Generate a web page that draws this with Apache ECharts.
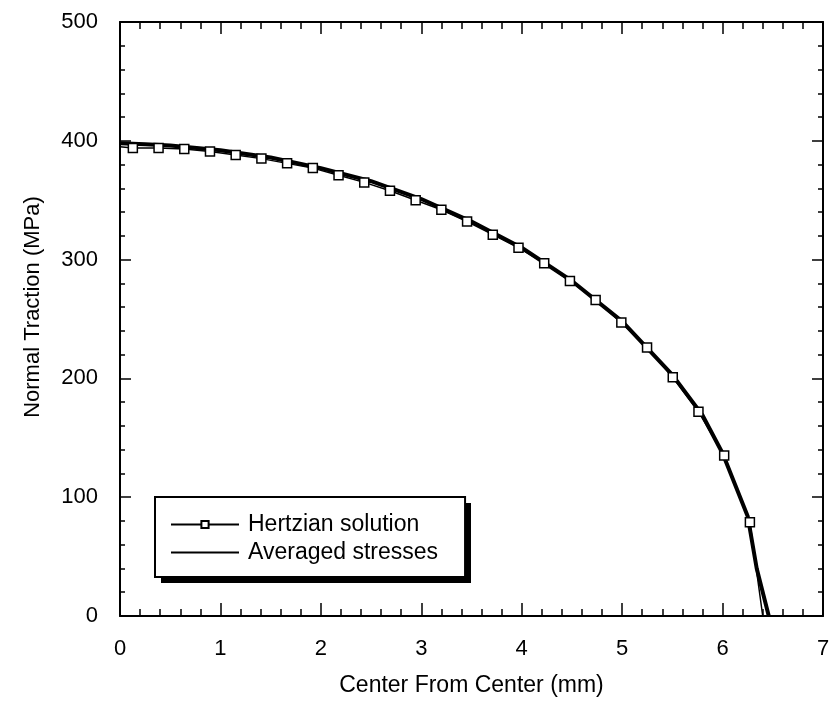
<!DOCTYPE html>
<html>
<head>
<meta charset="utf-8">
<script src="https://cdn.jsdelivr.net/npm/echarts@6/dist/echarts.min.js"></script>
<style>
  html, body { margin: 0; padding: 0; background: #fff; }
  #chart { width: 835px; height: 720px; }
</style>
</head>
<body>
<div id="chart"></div>
<script>
// Hertzian solution, element centres (markers)
const hertzX = [0.128, 0.384, 0.640, 0.896, 1.152, 1.408, 1.664, 1.920, 2.176, 2.432,
                2.688, 2.944, 3.200, 3.456, 3.712, 3.968, 4.224, 4.480, 4.736, 4.992,
                5.248, 5.504, 5.760, 6.016, 6.272]
const hertzY = [394, 394, 393, 391, 388, 385, 381, 377, 371, 365,
                358, 350, 342, 332, 321, 310, 297, 282, 266, 247,
                226, 201, 172, 135, 79]
// line ends without markers
const hertzStart = [0, 395]
const hertzEnd = [6.4, 0]

// Averaged stresses
const avgX = [0, 0.25, 0.5, 1.0, 1.5, 2.0, 2.5, 3.0, 3.5, 4.0, 4.5, 5.0, 5.5, 5.8, 6.0, 6.25, 6.34, 6.46]
const avgY = [398, 397, 396, 392, 386, 377, 366, 351, 332, 310, 282, 248, 203, 169, 137, 84, 40, 0]

const xTicks = [0, 1, 2, 3, 4, 5, 6, 7]
const yTicks = [0, 100, 200, 300, 400, 500]

const font = "'Liberation Sans', Arial, Helvetica, sans-serif"

const chart = echarts.init(document.getElementById('chart'))

const hertzData = [{ value: hertzStart, symbol: 'none' }]
  .concat(hertzX.map((x, i) => [x, hertzY[i]]))
  .concat([{ value: hertzEnd, symbol: 'none' }])
const avgData = avgX.map((x, i) => [x, avgY[i]])

const axisLine = { show: true, onZero: false, lineStyle: { color: '#000', width: 2 } }

const option = {
  animation: false,
  backgroundColor: '#fff',
  grid: { left: 120, right: 12, top: 22, bottom: 104 },
  // drop shadow behind the legend box
  graphic: [
    { type: 'rect', left: 161, top: 503, z: 0,
      shape: { width: 310, height: 80 }, style: { fill: '#000' } }
  ],
  legend: {
    orient: 'vertical',
    left: 155,
    top: 497,
    z: 10,
    padding: [16, 27, 13, 15],
    itemWidth: 68,
    itemHeight: 9,
    itemGap: 5,
    backgroundColor: '#fff',
    borderColor: '#000',
    borderWidth: 2,
    borderRadius: 0,
    textStyle: { fontFamily: font, fontSize: 23, color: '#000', padding: [0, 0, 0, 4] },
    data: [
      { name: 'Hertzian solution' },
      { name: 'Averaged stresses', icon: 'path://M0 0H68V2H0Z' }
    ]
  },
  xAxis: [
    {
      type: 'value', min: 0, max: 7, interval: 1, position: 'bottom',
      name: 'Center From Center (mm)', nameLocation: 'middle', nameGap: 58,
      nameTextStyle: { fontFamily: font, fontSize: 23, color: '#000' },
      axisLine: axisLine,
      axisTick: { inside: true, length: 13, lineStyle: { color: '#000', width: 1.5 } },
      minorTick: { show: true, splitNumber: 5, length: 7, lineStyle: { color: '#000', width: 1.5 } },
      axisLabel: { fontFamily: font, fontSize: 22, color: '#000', margin: 22,
        formatter: v => xTicks.includes(v) ? String(v) : '' },
      splitLine: { show: false }
    },
    {
      type: 'value', min: 0, max: 7, interval: 1, position: 'top',
      axisLine: axisLine,
      axisTick: { inside: true, length: 12, lineStyle: { color: '#000', width: 1.5 } },
      minorTick: { show: true, splitNumber: 5, length: 7, lineStyle: { color: '#000', width: 1.5 } },
      axisLabel: { show: false },
      splitLine: { show: false }
    }
  ],
  yAxis: [
    {
      type: 'value', min: 0, max: 500, interval: 100, position: 'left',
      name: 'Normal Traction (MPa)', nameLocation: 'middle', nameGap: 76,
      nameTextStyle: { fontFamily: font, fontSize: 22, color: '#000', padding: [0, 0, 0, 24] },
      axisLine: axisLine,
      axisTick: { inside: true, length: 11, lineStyle: { color: '#000', width: 1.5 } },
      minorTick: { show: true, splitNumber: 5, length: 5, lineStyle: { color: '#000', width: 1.5 } },
      axisLabel: { fontFamily: font, fontSize: 22, color: '#000', margin: 22,
        formatter: v => yTicks.includes(v) ? String(v) : '' },
      splitLine: { show: false }
    },
    {
      type: 'value', min: 0, max: 500, interval: 100, position: 'right',
      axisLine: axisLine,
      axisTick: { inside: true, length: 11, lineStyle: { color: '#000', width: 1.5 } },
      minorTick: { show: true, splitNumber: 5, length: 5, lineStyle: { color: '#000', width: 1.5 } },
      axisLabel: { show: false },
      splitLine: { show: false }
    }
  ],
  series: [
    {
      name: 'Averaged stresses',
      type: 'line',
      data: avgData,
      showSymbol: false,
      symbol: 'none',
      z: 2,
      lineStyle: { color: '#000', width: 4 },
      itemStyle: { color: '#000' }
    },
    {
      name: 'Hertzian solution',
      type: 'line',
      data: hertzData,
      symbol: 'rect',
      symbolSize: 9,
      showAllSymbol: true,
      z: 3,
      lineStyle: { color: '#000', width: 1.5 },
      itemStyle: { color: '#fff', borderColor: '#000', borderWidth: 1.5 }
    }
  ]
}

option && chart.setOption(option)
</script>
</body>
</html>
